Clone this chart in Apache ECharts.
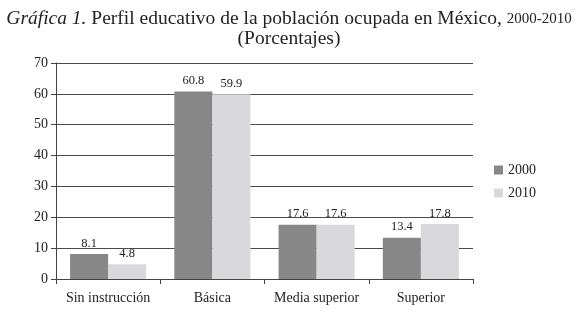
<!DOCTYPE html>
<html>
<head>
<meta charset="utf-8">
<script src="https://cdn.jsdelivr.net/npm/echarts@6/dist/echarts.min.js"></script>
<style>
  html, body { margin: 0; padding: 0; background: #fff; }
  #chart { width: 578px; height: 314px; }
</style>
</head>
<body>
<div id="chart"></div>
<script>
var categories = ["Sin instrucción", "Básica", "Media superior", "Superior"];
var years = ["2000", "2010"];
var values2000 = [8.1, 60.8, 17.6, 13.4];
var values2010 = [4.8, 59.9, 17.6, 17.8];

var serif = "Liberation Serif";
var chart = echarts.init(document.getElementById("chart"));

var option = {
  backgroundColor: "#fff",
  animation: false,
  title: [
    {
      left: "center",
      top: 4,
      text: "{i|Gráfica 1.} Perfil educativo de la población ocupada en México, {s|2000-2010}",
      textStyle: {
        fontFamily: serif,
        fontWeight: "normal",
        color: "#222",
        fontSize: 19.5,
        rich: {
          i: { fontFamily: serif, fontStyle: "italic", fontSize: 19.5, color: "#222" },
          s: { fontFamily: serif, fontSize: 15, color: "#222" }
        }
      }
    },
    {
      left: "center",
      top: 24,
      text: "(Porcentajes)",
      textStyle: { fontFamily: serif, fontWeight: "normal", color: "#222", fontSize: 19.5 }
    }
  ],
  legend: {
    orient: "vertical",
    left: 489,
    top: 158,
    itemWidth: 9,
    itemHeight: 9,
    itemGap: 9,
    icon: "rect",
    data: years,
    textStyle: { fontFamily: serif, fontSize: 14, color: "#222" }
  },
  grid: { left: 56, right: 105, top: 63, bottom: 35 },
  xAxis: {
    type: "category",
    data: categories,
    axisLine: { lineStyle: { color: "#444", width: 1 } },
    axisTick: { show: true, length: 5, lineStyle: { color: "#444" } },
    axisLabel: { interval: 0, fontFamily: serif, fontSize: 14, color: "#222", margin: 12 }
  },
  yAxis: {
    type: "value",
    min: 0,
    max: 70,
    interval: 10,
    axisLine: { show: true, lineStyle: { color: "#444", width: 1 } },
    axisTick: { show: true, length: 5, lineStyle: { color: "#444" } },
    axisLabel: { fontFamily: serif, fontSize: 14, color: "#222", margin: 8 },
    splitLine: { lineStyle: { color: "#4a4a4a", width: 1 } }
  },
  series: [
    {
      name: years[0],
      type: "bar",
      data: values2000,
      barGap: "0%",
      barCategoryGap: "27%",
      itemStyle: { color: "#878787" },
      label: { show: true, position: "top", fontFamily: serif, fontSize: 12.5, color: "#222", distance: 4 }
    },
    {
      name: years[1],
      type: "bar",
      data: values2010,
      itemStyle: { color: "#d9d9db" },
      label: { show: true, position: "top", fontFamily: serif, fontSize: 12.5, color: "#222", distance: 4 }
    }
  ]
};
chart.setOption(option);
</script>
</body>
</html>
